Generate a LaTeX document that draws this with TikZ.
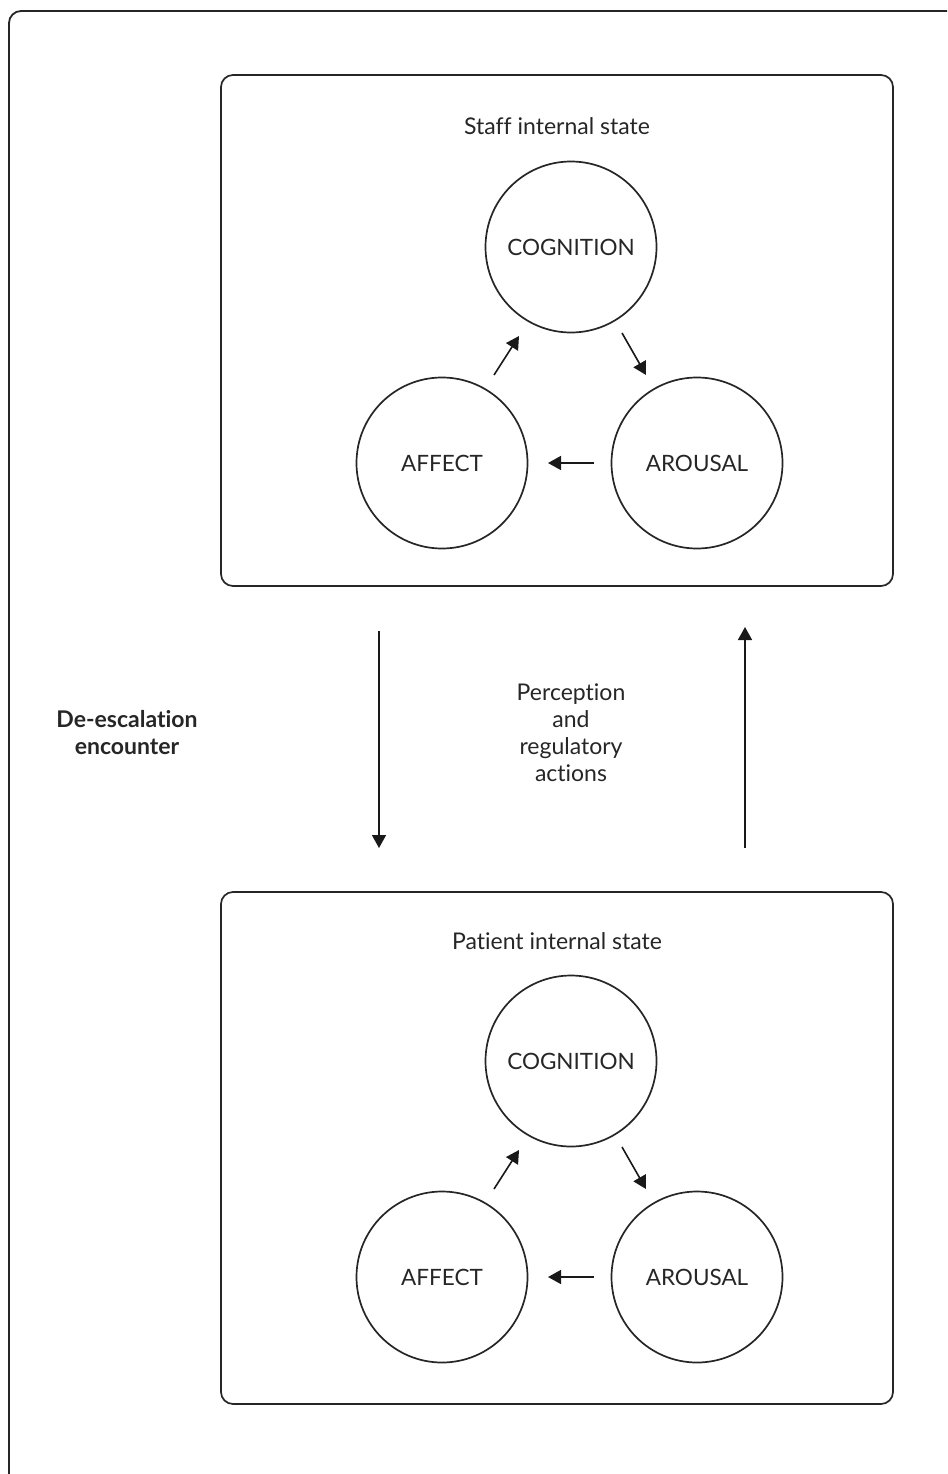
\documentclass[tikz,border=0pt]{standalone}
\usepackage{fontspec}
\setmainfont[Ligatures=NoCommon]{Lato}
\usetikzlibrary{arrows.meta}
\begin{document}
\begin{tikzpicture}[x=1pt,y=-1pt,
  frame/.style={draw=black!85,line width=1.8pt,rounded corners=12pt},
  statebox/.style={draw=black!85,line width=1.7pt,rounded corners=12pt},
  stcircle/.style={draw=black!85,line width=1.7pt,circle,minimum size=171pt,inner sep=0pt,text=black!85,font=\fontsize{22.5}{27}\selectfont},
  arr/.style={draw=black!90,line width=1.6pt,-{Triangle[length=13pt,width=14pt]}},
  lbl/.style={font=\fontsize{23}{27}\selectfont,align=center,text=black!85}]
\useasboundingbox (0,0) rectangle (947,1474);
\begin{scope}
\clip (0,0) rectangle (947,1474);
\draw[frame] (9,11) rectangle (980,1510);
\end{scope}
% staff box
\draw[statebox] (221,75) rectangle (893,586);
\node[lbl] (stafflbl) at (557,126) {Staff internal state};
\node[stcircle] (sc) at (571,247) {COGNITION};
\node[stcircle] (sa) at (442,463) {AFFECT};
\node[stcircle] (sr) at (697,463) {AROUSAL};
\coordinate (s1a) at (494,375); \coordinate (s1b) at (519,336);
\coordinate (s2a) at (622,333); \coordinate (s2b) at (646,375);
\coordinate (s3a) at (594,463); \coordinate (s3b) at (548,463);
\draw[arr] (s1a) -- (s1b);
\draw[arr] (s2a) -- (s2b);
\draw[arr] (s3a) -- (s3b);
% patient box
\draw[statebox] (221,892) rectangle (893,1404);
\node[lbl] (patlbl) at (557,941) {Patient internal state};
\node[stcircle] (pc) at (571,1061) {COGNITION};
\node[stcircle] (pa) at (442,1277) {AFFECT};
\node[stcircle] (pr) at (697,1277) {AROUSAL};
\coordinate (p1a) at (494,1189); \coordinate (p1b) at (519,1150);
\coordinate (p2a) at (622,1147); \coordinate (p2b) at (646,1189);
\coordinate (p3a) at (594,1277); \coordinate (p3b) at (548,1277);
\draw[arr] (p1a) -- (p1b);
\draw[arr] (p2a) -- (p2b);
\draw[arr] (p3a) -- (p3b);
% interaction arrows
\coordinate (d1) at (379,631); \coordinate (d2) at (379,848);
\coordinate (u1) at (745,848); \coordinate (u2) at (745,627);
\draw[arr] (d1) -- (d2);
\draw[arr] (u1) -- (u2);
\node[lbl] (perc) at (571,733) {Perception\\and\\regulatory\\actions};
\node[lbl,font=\fontsize{23}{27}\bfseries\selectfont] (enc) at (127,733) {De-escalation\\encounter};
\end{tikzpicture}
\end{document}
